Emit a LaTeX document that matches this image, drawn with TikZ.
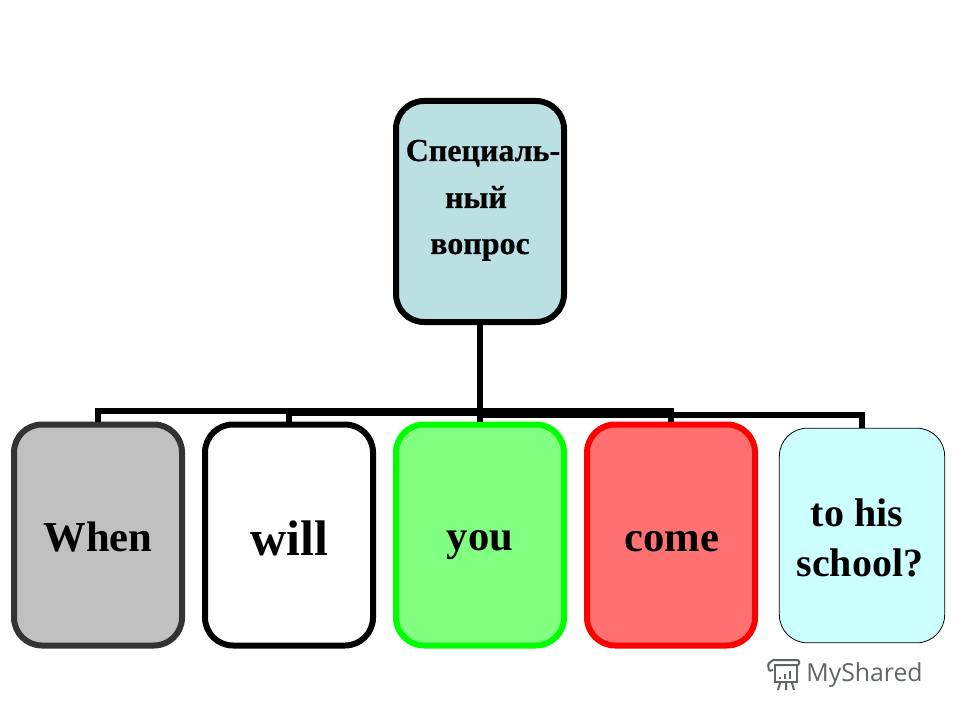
\documentclass[tikz,border=0pt]{standalone}
\usepackage{fontspec}
\setmainfont{Liberation Serif}
\newfontfamily\logofont{Open Sans}
\newfontfamily\rootfont[FakeBold=0.6]{Liberation Serif Bold}
\definecolor{rootfill}{RGB}{187,224,227}
\definecolor{whenline}{RGB}{51,51,51}
\definecolor{whenfill}{RGB}{192,192,192}
\definecolor{youfill}{RGB}{128,255,128}
\definecolor{comefill}{RGB}{255,112,112}
\definecolor{schoolfill}{RGB}{204,255,255}
\definecolor{logogray}{RGB}{95,102,100}
\tikzset{
  bigbox/.style={draw,line width=4.5pt,rounded corners=21pt,minimum width=126pt,minimum height=165.75pt,inner sep=0pt},
  thinbox/.style={draw,line width=0.6pt,rounded corners=21pt,minimum width=124pt,minimum height=161pt,inner sep=0pt},
  busline/.style={draw,line width=4.5pt},
  word/.style={font=\bfseries\fontsize{32pt}{32pt}\selectfont,inner sep=0pt,anchor=base},
  rootword/.style={font=\rootfont\fontsize{24pt}{24pt}\selectfont,inner sep=0pt,anchor=base},
  logoline/.style={draw=logogray,line width=1.5pt}
}
\begin{document}
\begin{tikzpicture}[x=0.75pt,y=0.75pt,yscale=-1,xscale=1]
\useasboundingbox (0,0) rectangle (960,720);

%Boxes
\node (root) [bigbox,fill=rootfill] at (480,211.5) {};
\node (when) [bigbox,draw=whenline,fill=whenfill] at (98,535) {};
\node (will) [bigbox,fill=white] at (289,535) {};
\node (you) [bigbox,draw=green,fill=youfill] at (480,535) {};
\node (come) [bigbox,draw=red,fill=comefill] at (671,535) {};
\node (school) [thinbox,fill=schoolfill] at (862,535.5) {};

%Connectors
\path[busline] (root.south) -- ++(0,86) -| (when.north);
\path[busline] (root.south) -- ++(0,88) -| (will.north);
\path[busline] (root.south) -- (you.north);
\path[busline] (root.south) -- ++(0,86) -| (come.north);
\path[busline] (root.south) -- ++(0,89.5) -| (school.north);

% Text Node
\node (rootone) [rootword] at (483,161) {Специаль-};
\node (roottwo) [rootword] at (476,208) {ный};
\node (rootthree) [rootword] at (480,254) {вопрос};
% Text Node
\node (whentext) [word] at (98,551) {When};
\node (willtext) [word,font=\bfseries\fontsize{37.5pt}{37.5pt}\selectfont] at (289,555) {will};
\node (youtext) [word] at (480,550) {you};
\node (cometext) [word] at (672,551) {come};
\node (hisline) [word,font=\bfseries\fontsize{30pt}{30pt}\selectfont] at (857,526) {to his};
\node (schoolline) [word,font=\bfseries\fontsize{30pt}{30pt}\selectfont] at (860,576) {school?};

%Logo
\draw[logoline,rounded corners=1pt] (773,660) -- (799,660) -- (799,665) -- (774,665);
\draw[logoline,rounded corners=1pt] (773,660) -- (768,664) -- (769,671) -- (773,670);
\draw[logoline] (775,665) -- (775,682) -- (797,682) -- (797,665);
\draw[logoline,line width=2pt] (780,679) -- (780,677) (785,679) -- (785,674) (790,679) -- (790,671);
\draw[logoline] (780,683) -- (778,690) (786,683) -- (786,690) (792,683) -- (794,690);
\node (logotext) [text=logogray,inner sep=0pt,font=\logofont\fontsize{18.6pt}{18.6pt}\selectfont] at (864.5,675) {MyShared};
\end{tikzpicture}
\end{document}
